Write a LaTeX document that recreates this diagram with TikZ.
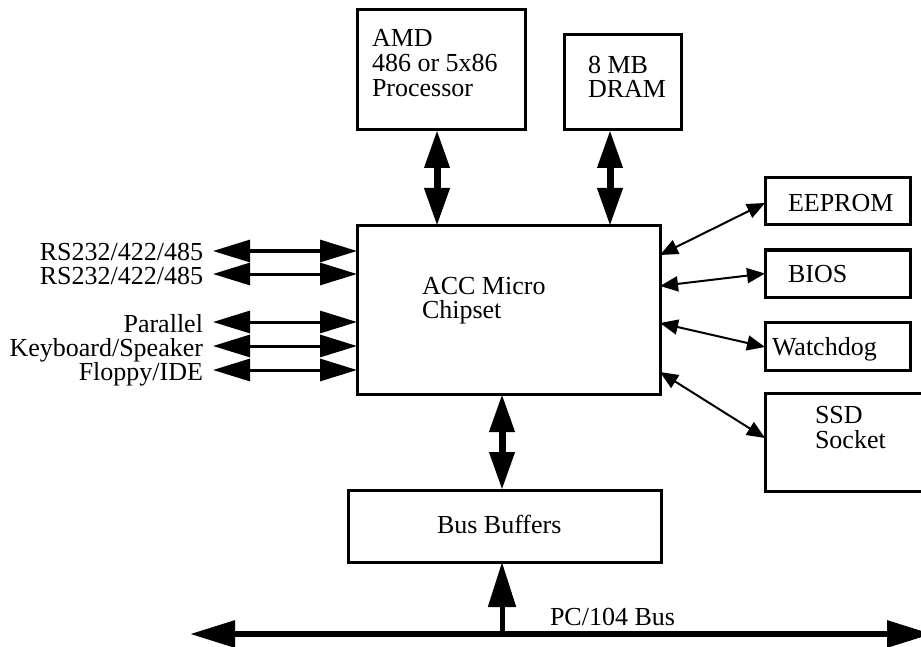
\documentclass[tikz,border=0pt]{standalone}
\usepackage{fontspec}
\setmainfont{Liberation Serif}
\usetikzlibrary{arrows.meta}
\begin{document}
\begin{tikzpicture}[x=1pt,y=-1pt,
  box/.style={draw,line width=3pt,inner sep=0pt,outer sep=0pt,rectangle},
  txt/.style={inner sep=0pt,outer sep=0pt,anchor=base west,align=left,font=\fontsize{26}{25}\selectfont},
  txtb/.style={inner sep=0pt,outer sep=0pt,anchor=base west,align=left,font=\fontsize{26}{24}\selectfont},
  rtxt/.style={inner sep=0pt,outer sep=0pt,anchor=base east,align=right,font=\fontsize{26}{24}\selectfont},
  sidearrow/.style={line width=3pt,{Triangle[length=37pt,width=22pt]}-{Triangle[length=37pt,width=22pt]}},
  fatarrow/.style={line width=7pt,{Triangle[length=38pt,width=24pt]}-{Triangle[length=38pt,width=24pt]}},
  diagarrow/.style={line width=2pt,{Triangle[length=18pt,width=15pt]}-{Triangle[length=18pt,width=15pt]}},
  busarrow/.style={line width=6pt,{Triangle[length=45pt,width=26pt]}-{Triangle[length=45pt,width=26pt]}},
  uparrow/.style={line width=5pt,-{Triangle[length=45pt,width=27pt]}}
]
\useasboundingbox (0,0) rectangle (921,647);

% boxes
\node[box,minimum width=168pt,minimum height=120pt] (proc) at (441,70) {};
\node[box,minimum width=117pt,minimum height=95pt] (dram) at (622.5,82.5) {};
\node[box,minimum width=303pt,minimum height=168pt] (chip) at (508.5,310) {};
\node[box,minimum width=145pt,minimum height=47pt] (eeprom) at (837.5,201.5) {};
\node[box,minimum width=145pt,minimum height=47pt] (bios) at (837.5,273.5) {};
\node[box,minimum width=145pt,minimum height=48pt] (wdog) at (837.5,346) {};
\node[box,minimum width=170pt,minimum height=98pt] (ssd) at (850,442) {};
\node[box,minimum width=313pt,minimum height=72pt] (buf) at (504.5,526) {};

% texts (multi-line nodes are anchored at the baseline of their last line)
\node[txt] (tproc) at (372,97) {AMD\\486 or 5x86\\Processor};
\node[txtb] (tdram) at (588,98) {8 MB\\DRAM};
\node[txtb] (tchip) at (422,318) {ACC Micro\\Chipset};
\node[txt] (teeprom) at (788,212) {EEPROM};
\node[txt] (tbios) at (788,282) {BIOS};
\node[txt] (twdog) at (772,355) {Watchdog};
\node[txt] (tssd) at (815,448) {SSD\\Socket};
\node[txt] (tbuf) at (437,533) {Bus Buffers};
\node[txt] (tbus) at (550,625) {PC/104 Bus};

% left side labels and arrows
\coordinate (l1) at (213,251);
\coordinate (l2) at (213,274);
\coordinate (l3) at (213,322);
\coordinate (l4) at (213,346);
\coordinate (l5) at (213,370);
\node[rtxt] (rs) at (203,284.5) {RS232/422/485\\RS232/422/485};
\node[rtxt] (rp) at (203,380) {Parallel\\Keyboard/Speaker\\Floppy/IDE};
\foreach \c in {l1,l2,l3,l4,l5}
  \draw[sidearrow] (\c) -- (\c -| chip.west);

% vertical fat arrows
\draw[fatarrow] ([xshift=-4pt]proc.south) -- ([xshift=-4pt]proc.south |- chip.north);
\draw[fatarrow] ([xshift=-12.5pt]dram.south) -- ([xshift=-12.5pt]dram.south |- chip.north);
\draw[fatarrow] ([xshift=-6.5pt]chip.south) -- ([xshift=-6.5pt]chip.south |- buf.north);

% diagonal arrows
\draw[diagarrow] ([yshift=-29pt]chip.north east) -- ([yshift=-1.5pt]eeprom.west);
\draw[diagarrow] ([yshift=-60pt]chip.north east) -- (bios.west);
\draw[diagarrow] ([yshift=-97pt]chip.north east) -- ([yshift=-1pt]wdog.west);
\draw[diagarrow] ([yshift=-146pt]chip.north east) -- ([yshift=4pt]ssd.west);

% bus
\coordinate (busl) at (190,634);
\coordinate (busr) at (932,634);
\coordinate (busj) at (502,634);
\draw[busarrow] (busl) -- (busr);
\draw[uparrow] (busj) -- (busj |- buf.south);
\end{tikzpicture}
\end{document}
